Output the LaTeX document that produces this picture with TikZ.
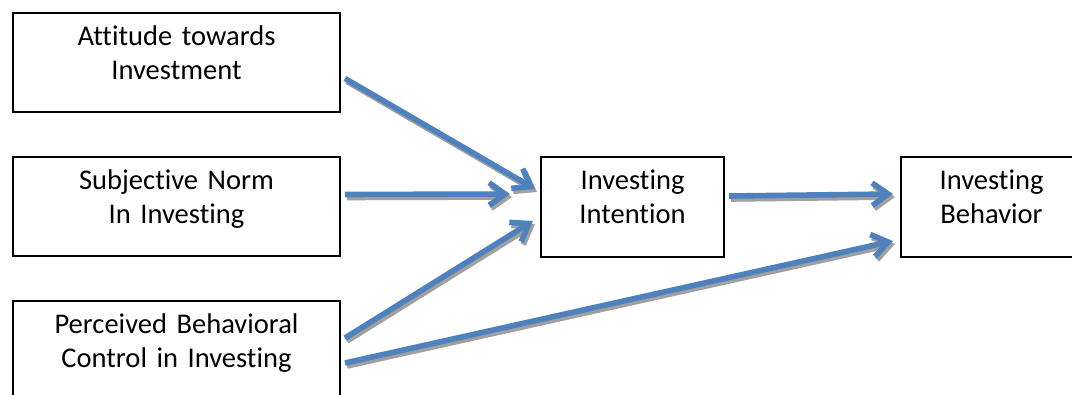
\documentclass[tikz,border=0pt]{standalone}
\usepackage{fontspec}
\setmainfont{Carlito}[Ligatures=NoCommon]
\usetikzlibrary{arrows.meta,calc}
\definecolor{arrowblue}{HTML}{4F81BD}
\definecolor{shadowgray}{HTML}{A0A0A0}
\tikzset{
  box/.style={draw, line width=1.5pt, anchor=north west, inner sep=0pt},
  lbl/.style={anchor=base, text width=225pt, align=center, inner sep=0pt,
    font=\fontsize{21.4}{25.5}\selectfont},
  flow/.style={line width=4.2pt, -{Straight Barb[length=12pt,width=17pt]}},
  flowshadow/.style={flow, shadowgray,
    transform canvas={shift={(1.5pt,-2.25pt)}}}
}
\begin{document}
\begin{tikzpicture}[x=0.75pt,y=-0.75pt]
  \useasboundingbox (0,0) rectangle (1072,394);
  \clip (0,0) rectangle (1072,394);
  % boxes
  \node[box, minimum width=245.25pt, minimum height=74.25pt] at (12,12) (att) {};
  \node[box, minimum width=245.25pt, minimum height=74.25pt] at (12,156) (norm) {};
  \node[box, minimum width=245.25pt, minimum height=75pt] at (12,300) (pbc) {};
  \node[box, minimum width=137.25pt, minimum height=75pt] at (540,156) (intent) {};
  \node[box, minimum width=135.75pt, minimum height=75pt] at (900,156) (behav) {};
  % texts
  \node[lbl] at ($(att.north)+(0,33)$) (attT) {Attitude towards\\Investment};
  \node[lbl] at ($(norm.north)+(0,33)$) (normT) {Subjective Norm\\In Investing};
  \node[lbl] at ($(pbc.north)+(0,33)$) (pbcT) {Perceived Behavioral\\Control in Investing};
  \node[lbl] at ($(intent.north)+(0,33)$) (intentT) {Investing\\Intention};
  \node[lbl] at ($(behav.north)+(0,33)$) (behavT) {Investing\\Behavior};
  % arrows, gray shadow first
  \foreach \a/\ax/\ay/\b/\bx/\by in {
      att.east/4/16/intent.west/-5/-18,
      norm.east/4/-12/intent.west/-30/-13,
      pbc.east/4/-13/intent.west/-7/14,
      pbc.east/4/12/behav.west/-7/34,
      intent.east/4/-11/behav.west/-7/-13} {
    \draw[flowshadow] ($(\a)+(\ax,\ay)$) -- ($(\b)+(\bx,\by)$);
    \draw[flow, arrowblue] ($(\a)+(\ax,\ay)$) -- ($(\b)+(\bx,\by)$);
  }
\end{tikzpicture}
\end{document}
